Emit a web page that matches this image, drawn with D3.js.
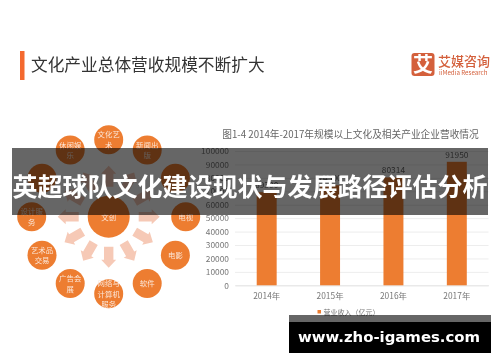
<!DOCTYPE html>
<html>
<head>
<meta charset="utf-8">
<script src="https://cdn.jsdelivr.net/npm/d3@7"></script>
<style>
  html, body { margin: 0; padding: 0; background: #fff; }
  svg { display: block; filter: blur(0.45px); }
  text { font-family: "Noto Sans CJK SC", "Noto Sans", sans-serif; }
</style>
</head>
<body>
<div id="my_dataviz"></div>
<script>
// bar chart data
var years = ["2014年", "2015年", "2016年", "2017年"];
var revenue = [69300, 74500, 80314, 91950];
var yTicks = [0, 10000, 20000, 30000, 40000, 50000, 60000, 70000, 80000, 90000, 100000];

// bubbles, clockwise from the top. two of them sit behind the banner and can't be read
var bubbleLabels = ["文化艺术", "新闻出版", "", "电视", "电影", "软件",
  "网络与计算机服务", "广告会展", "艺术品交易", "设计服务", "", "休闲娱乐"];
var centerLabel = "文创";

var pageTitle = "文化产业总体营收规模不断扩大";
var chartTitle = "图1-4 2014年-2017年规模以上文化及相关产业企业营收情况";
var legendLabel = "营业收入（亿元）";
var bannerTitle = "英超球队文化建设现状与发展路径评估分析";
var siteUrl = "www.zho-igames.com";

var orange = "#ed7d31";

var svg = d3.select("#my_dataviz")
  .append("svg")
  .attr("width", 500)
  .attr("height", 362);

// header
svg.append("rect")
  .attr("x", 20).attr("y", 51).attr("width", 4.5).attr("height", 29)
  .attr("fill", "#f4692f");
svg.append("text")
  .attr("x", 31).attr("y", 71)
  .style("font-size", "16.7px")
  .attr("fill", "#333")
  .text(pageTitle);

// logo
svg.append("rect")
  .attr("x", 411.5).attr("y", 53).attr("width", 23).attr("height", 23).attr("rx", 3)
  .attr("fill", "#d4603c");
svg.append("text")
  .attr("x", 423).attr("y", 71.5)
  .attr("text-anchor", "middle")
  .style("font-size", "20px").style("font-weight", 700)
  .attr("fill", "#fff")
  .text("艾");
svg.append("text")
  .attr("x", 438).attr("y", 66)
  .style("font-size", "13px").style("font-weight", 500)
  .attr("fill", "#d4603c")
  .text("艾媒咨询");
svg.append("text")
  .attr("x", 439).attr("y", 75)
  .style("font-size", "6.2px")
  .attr("fill", "#d4603c")
  .text("iiMedia Research");

// bubble diagram
var cx = 108.7, cy = 216.7;
var angle = d3.scaleLinear().domain([0, bubbleLabels.length]).range([0, 2 * Math.PI]);
var ring = svg.append("g").attr("transform", "translate(" + cx + "," + cy + ")");

ring.selectAll(".arrow")
  .data(bubbleLabels)
  .enter().append("path")
  .attr("class", "arrow")
  .attr("fill", "#f6c9b6")
  .attr("transform", (d, i) => "rotate(" + (angle(i) * 180 / Math.PI) + ")")
  .attr("d", "M-4.7,-30 L4.7,-30 L4.7,-43 L7.5,-43 L0,-51 L-7.5,-43 L-4.7,-43 Z");

var bubble = ring.selectAll(".bubble")
  .data(bubbleLabels)
  .enter().append("g")
  .attr("class", "bubble")
  .attr("transform", (d, i) => "translate(" + (77 * Math.sin(angle(i))) + "," + (-77 * Math.cos(angle(i))) + ")");

bubble.append("circle")
  .attr("r", 14.5)
  .attr("fill", orange);

bubble.each(function (d) {
  var lines = d.match(/.{1,3}/g) || [];
  d3.select(this).selectAll("text")
    .data(lines)
    .enter().append("text")
    .attr("text-anchor", "middle")
    .attr("y", (l, j) => (j - (lines.length - 1) / 2) * 10.5 + 3)
    .style("font-size", "7.4px")
    .attr("fill", "#fbe6d8")
    .text(l => l);
});

ring.append("circle").attr("r", 21).attr("fill", orange);
ring.append("text")
  .attr("text-anchor", "middle").attr("y", 3)
  .style("font-size", "7.4px")
  .attr("fill", "#fbe6d8")
  .text(centerLabel);

// bar chart
var x = d3.scaleBand().domain(years).range([235, 488.5]).paddingInner(0.685).paddingOuter(0.3425);
var y = d3.scaleLinear().domain([0, 100000]).range([285.3, 151]);

svg.append("text")
  .attr("x", 350.5).attr("y", 137.5)
  .attr("text-anchor", "middle")
  .style("font-size", "9.7px")
  .attr("fill", "#666")
  .text(chartTitle);

svg.append("g")
  .attr("transform", "translate(235,0)")
  .call(d3.axisLeft(y).tickValues(yTicks).tickFormat(d3.format("d")).tickSize(-253.5).tickPadding(6))
  .call(g => {
    g.select(".domain").remove();
    g.selectAll("line").attr("stroke", "#ededed");
    g.selectAll("text").attr("fill", "#777").style("font-size", "8.4px");
  });

svg.append("g")
  .attr("transform", "translate(0,285.3)")
  .call(d3.axisBottom(x).tickSize(0).tickPadding(8))
  .call(g => {
    g.select(".domain").attr("stroke", "#e6e6e6");
    g.selectAll("text").attr("fill", "#777").style("font-size", "8.4px");
  });

svg.selectAll(".bar")
  .data(revenue)
  .enter().append("rect")
  .attr("class", "bar")
  .attr("x", (d, i) => x(years[i]))
  .attr("y", d => y(d))
  .attr("width", x.bandwidth())
  .attr("height", d => y(0) - y(d))
  .attr("fill", orange);

svg.selectAll(".barLabel")
  .data(revenue)
  .enter().append("text")
  .attr("class", "barLabel")
  .attr("x", (d, i) => x(years[i]) + x.bandwidth() / 2)
  .attr("y", d => y(d) - 4)
  .attr("text-anchor", "middle")
  .style("font-size", "8.4px")
  .attr("fill", "#666")
  .text(d => d);

// legend
svg.append("rect")
  .attr("x", 317.5).attr("y", 310).attr("width", 3.5).attr("height", 3.5)
  .attr("fill", orange);
svg.append("text")
  .attr("x", 323.5).attr("y", 315)
  .style("font-size", "7px")
  .attr("fill", "#777")
  .text(legendLabel);

// banner over the chart
svg.append("rect")
  .attr("x", 12).attr("y", 148).attr("width", 476).attr("height", 67)
  .attr("fill", "#000").attr("fill-opacity", 0.6);
svg.append("text")
  .attr("x", 250).attr("y", 196)
  .attr("text-anchor", "middle")
  .style("font-size", "25px").style("font-weight", 700)
  .attr("fill", "#fff")
  .text(bannerTitle);

// site url box
svg.append("rect")
  .attr("x", 289).attr("y", 315).attr("width", 202).attr("height", 7)
  .attr("fill", "#000").attr("fill-opacity", 0.6);
svg.append("rect")
  .attr("x", 289).attr("y", 322).attr("width", 202).attr("height", 31)
  .attr("fill", "#000");
svg.append("text")
  .attr("x", 389).attr("y", 342)
  .attr("text-anchor", "middle")
  .style("font-family", "'DejaVu Sans', sans-serif")
  .style("font-size", "14.9px").style("font-weight", 700)
  .attr("fill", "#fff")
  .text(siteUrl);
</script>
</body>
</html>
